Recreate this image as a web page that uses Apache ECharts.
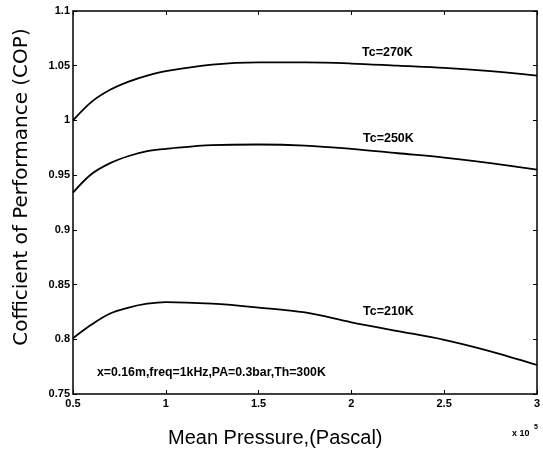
<!DOCTYPE html>
<html><head><meta charset="utf-8">
<script src="https://cdn.jsdelivr.net/npm/echarts@6/dist/echarts.min.js"></script>
<style>html,body{margin:0;padding:0;background:#fff}#c{width:543px;height:453px}</style>
</head><body><div id="c"></div>
<script>
var pressure = [0.5, 0.6, 0.7, 0.8, 0.9, 1.0, 1.25, 1.5, 1.75, 2.0, 2.25, 2.5, 2.75, 3.0];
var cop270 = [1.000, 1.017, 1.028, 1.0355, 1.041, 1.045, 1.051, 1.053, 1.053, 1.052, 1.050, 1.048, 1.045, 1.041];
var cop250 = [0.934, 0.951, 0.961, 0.9675, 0.972, 0.974, 0.9775, 0.978, 0.977, 0.974, 0.970, 0.966, 0.961, 0.955];
var cop210 = [0.801, 0.8135, 0.8236, 0.829, 0.8325, 0.834, 0.8325, 0.829, 0.8245, 0.8155, 0.8075, 0.7995, 0.789, 0.7765];
var seriesNames = ['Tc=270K', 'Tc=250K', 'Tc=210K'];
var note = 'x=0.16m,freq=1kHz,PA=0.3bar,Th=300K';
var xTitle = 'Mean Pressure,(Pascal)';
var yTitle = 'Cofficient of Performance (COP)';
var xExp = 'x 10';

function pairs(ys){ return pressure.map(function(x,i){return [x, ys[i]];}); }
function fmt(v){ return String(parseFloat(v.toFixed(2))); }

var chart = echarts.init(document.getElementById('c'));
var axisLine = {show:true, lineStyle:{color:'#000', width:1.5}};
var tickFont = {color:'#000', fontFamily:'Liberation Sans, Arial', fontWeight:'bold', fontSize:11};
var lineStyle = {color:'#000', width:1.8};
function mk(name, ys){
  return {name:name, type:'line', data:pairs(ys), smooth:0.35, showSymbol:false, lineStyle:lineStyle};
}
chart.setOption({
  animation:false,
  grid:{left:73, right:3, top:11, bottom:59},
  xAxis:[
    {type:'value', min:0.5, max:3, interval:0.5, position:'bottom',
     axisLine:axisLine, axisTick:{inside:true, length:4, lineStyle:{color:'#000'}},
     axisLabel:Object.assign({formatter:fmt, margin:4}, tickFont), splitLine:{show:false}},
    {type:'value', min:0.5, max:3, interval:0.5, position:'top',
     axisLine:axisLine, axisTick:{inside:true, length:4, lineStyle:{color:'#000'}},
     axisLabel:{show:false}, splitLine:{show:false}}
  ],
  yAxis:[
    {type:'value', min:0.75, max:1.1, interval:0.05, position:'left',
     axisLine:axisLine, axisTick:{inside:true, length:4, lineStyle:{color:'#000'}},
     axisLabel:Object.assign({formatter:fmt, margin:3}, tickFont), splitLine:{show:false}},
    {type:'value', min:0.75, max:1.1, interval:0.05, position:'right',
     axisLine:axisLine, axisTick:{inside:true, length:4, lineStyle:{color:'#000'}},
     axisLabel:{show:false}, splitLine:{show:false}}
  ],
  series:[ mk(seriesNames[0], cop270), mk(seriesNames[1], cop250), mk(seriesNames[2], cop210) ],
  graphic:[
    {type:'text', x:362, y:53, style:{text:seriesNames[0], font:'bold 12.5px Liberation Sans, Arial', fill:'#000', verticalAlign:'middle'}},
    {type:'text', x:363, y:139, style:{text:seriesNames[1], font:'bold 12.5px Liberation Sans, Arial', fill:'#000', verticalAlign:'middle'}},
    {type:'text', x:363, y:312, style:{text:seriesNames[2], font:'bold 12.5px Liberation Sans, Arial', fill:'#000', verticalAlign:'middle'}},
    {type:'text', x:97, y:373, style:{text:note, font:'bold 12.3px Liberation Sans, Arial', fill:'#000', verticalAlign:'middle'}},
    {type:'text', x:168, y:438, style:{text:xTitle, font:'20px Liberation Sans, Arial', fill:'#000', verticalAlign:'middle'}},
    {type:'text', x:512, y:434, style:{text:xExp, font:'bold 9px Liberation Sans, Arial', fill:'#000', verticalAlign:'middle'}},
    {type:'text', x:534, y:427, style:{text:'5', font:'bold 7px Liberation Sans, Arial', fill:'#000', verticalAlign:'middle'}},
    {type:'text', x:22, y:187, rotation:Math.PI/2, style:{text:yTitle, font:'20px DejaVu Sans, Liberation Sans', fill:'#000', align:'center', verticalAlign:'middle'}}
  ]
});
</script></body></html>
